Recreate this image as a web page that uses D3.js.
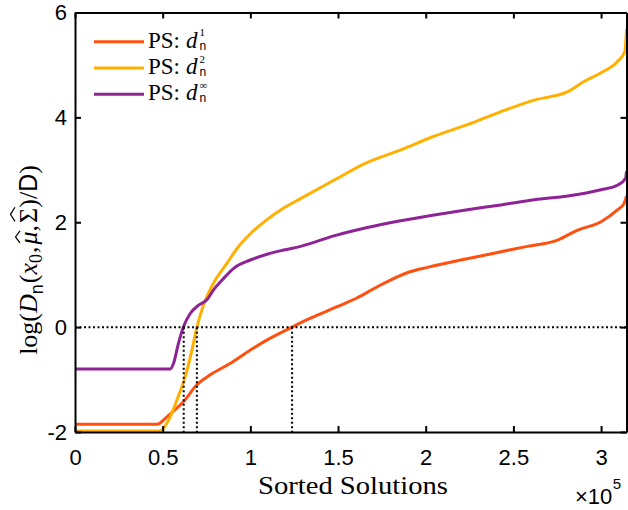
<!DOCTYPE html>
<html>
<head>
<meta charset="utf-8">
<script src="https://cdn.jsdelivr.net/npm/d3@7"></script>
<style>
  body { margin: 0; background: #fff; }
  svg { display: block; }
</style>
</head>
<body>
<svg id="chart"></svg>
<script>
// sorted solutions are in units of 1e5
const solD1 = [0, 0.47, 0.524, 0.619, 0.695, 0.771, 0.886, 1.0, 1.114, 1.238, 1.343, 1.495, 1.61, 1.724, 1.819, 1.914, 2.01, 2.2, 2.39, 2.505, 2.58, 2.752, 2.867, 3.0, 3.095, 3.13, 3.145];
const logD1 = [-1.85, -1.85, -1.71, -1.42, -1.10, -0.91, -0.69, -0.435, -0.21, 0.0, 0.17, 0.39, 0.56, 0.77, 0.93, 1.06, 1.14, 1.28, 1.41, 1.49, 1.54, 1.66, 1.85, 2.01, 2.24, 2.35, 2.5];

const solD2 = [0, 0.48, 0.543, 0.581, 0.629, 0.667, 0.695, 0.733, 0.79, 0.867, 0.924, 1.0, 1.095, 1.19, 1.286, 1.476, 1.667, 1.857, 2.048, 2.238, 2.429, 2.619, 2.81, 2.905, 3.0, 3.095, 3.135, 3.145];
const logD2 = [-1.98, -1.98, -1.71, -1.39, -0.94, -0.435, 0.0, 0.42, 0.84, 1.22, 1.5, 1.78, 2.05, 2.27, 2.45, 2.8, 3.14, 3.38, 3.64, 3.86, 4.11, 4.33, 4.49, 4.69, 4.85, 5.07, 5.25, 5.68];

const solDinf = [0, 0.543, 0.562, 0.59, 0.619, 0.657, 0.705, 0.752, 0.79, 0.848, 0.905, 1.0, 1.095, 1.19, 1.286, 1.476, 1.667, 1.857, 2.048, 2.238, 2.429, 2.619, 2.81, 3.0, 3.095, 3.14, 3.145];
const logDinf = [-0.80, -0.80, -0.69, -0.31, 0.01, 0.26, 0.42, 0.52, 0.71, 0.93, 1.12, 1.28, 1.39, 1.47, 1.54, 1.74, 1.9, 2.03, 2.14, 2.24, 2.33, 2.43, 2.5, 2.62, 2.71, 2.84, 2.97];

const seriesSup = ["1", "2", "\u221E"];
const seriesColors = ["#FF5010", "#FFB000", "#8E2396"];
const zeroCrossings = [0.62, 0.695, 1.238];
const xTicks = [0, 0.5, 1, 1.5, 2, 2.5, 3];
const yTicks = [-2, 0, 2, 4, 6];
const xMax = 3.145;

const width = 628, height = 510;
const sans = "'Liberation Sans', Arial, sans-serif";
const serif = "'Liberation Serif', 'Times New Roman', serif";

const svg = d3.select("#chart")
    .attr("width", width)
    .attr("height", height);

const x = d3.scaleLinear().domain([0, xMax]).range([75, 626.5]);
const y = d3.scaleLinear().domain([-2, 6]).range([432, 12.5]);

const series = [
    { xs: solD1, ys: logD1 },
    { xs: solD2, ys: logD2 },
    { xs: solDinf, ys: logDinf }
];

const line = d3.line()
    .x(d => x(d[0]))
    .y(d => y(d[1]))
    .curve(d3.curveMonotoneX);

series.forEach((s, i) => {
    svg.append("path")
        .datum(s.xs.map((v, j) => [v, s.ys[j]]))
        .attr("fill", "none")
        .attr("stroke", seriesColors[i])
        .attr("stroke-width", 3)
        .attr("stroke-linejoin", "round")
        .attr("d", line);
});

// dotted reference lines
svg.append("line")
    .attr("x1", x(0)).attr("x2", x(xMax))
    .attr("y1", y(0)).attr("y2", y(0))
    .attr("stroke", "#000")
    .attr("stroke-width", 2)
    .attr("stroke-dasharray", "2,2.5");

svg.selectAll("line.vdot")
    .data(zeroCrossings)
    .enter()
    .append("line")
    .attr("class", "vdot")
    .attr("x1", d => x(d)).attr("x2", d => x(d))
    .attr("y1", y(0)).attr("y2", y(-2))
    .attr("stroke", "#000")
    .attr("stroke-width", 2)
    .attr("stroke-dasharray", "2,2.5");

// axes (box with inward ticks)
const bottomAxis = d3.axisBottom(x).tickValues(xTicks).tickSizeInner(-6).tickSizeOuter(0).tickPadding(17)
    .tickFormat(d3.format("~g"));
const topAxis = d3.axisTop(x).tickValues(xTicks).tickSizeInner(-6).tickSizeOuter(0).tickFormat("");
const leftAxis = d3.axisLeft(y).tickValues(yTicks).tickSizeInner(-6).tickSizeOuter(0).tickPadding(8)
    .tickFormat(d => d < 0 ? "-" + Math.abs(d) : d);
const rightAxis = d3.axisRight(y).tickValues(yTicks).tickSizeInner(-6).tickSizeOuter(0).tickFormat("");

const gB = svg.append("g").attr("transform", `translate(0,${y(-2)})`).call(bottomAxis);
const gT = svg.append("g").attr("transform", `translate(0,${y(6)})`).call(topAxis);
const gL = svg.append("g").attr("transform", `translate(${x(0)},0)`).call(leftAxis);
const gR = svg.append("g").attr("transform", `translate(${x(xMax)},0)`).call(rightAxis);

[gB, gT, gL, gR].forEach(g => {
    g.select(".domain").attr("stroke", "#000").attr("stroke-width", 2);
    g.selectAll(".tick line").attr("stroke", "#000").attr("stroke-width", 2);
    g.selectAll("text")
        .style("font-family", sans)
        .style("font-size", "22px")
        .attr("fill", "#000");
});

// x label
svg.append("text")
    .attr("x", 353)
    .attr("y", 494)
    .attr("text-anchor", "middle")
    .style("font-family", serif)
    .style("font-size", "25px")
    .attr("textLength", 190)
    .attr("lengthAdjust", "spacingAndGlyphs")
    .text("Sorted Solutions");

// x10^5 multiplier
const mult = svg.append("text")
    .attr("x", 575)
    .attr("y", 504)
    .style("font-family", sans)
    .style("font-size", "22px")
    .text("\u00D710");
const multW = mult.node().getComputedTextLength();
svg.append("text")
    .attr("x", 575 + multW + 0.5)
    .attr("y", 489)
    .style("font-family", sans)
    .style("font-size", "15px")
    .text("5");

// helper: lay out math pieces one after another
function mathRow(g, pieces, base) {
    const fs = base || 22;
    let cx = 0;
    pieces.forEach(p => {
        const t = g.append("text")
            .attr("x", cx)
            .attr("y", p.dy || 0)
            .style("font-family", p.sans ? sans : serif)
            .style("font-style", p.italic ? "italic" : "normal")
            .style("font-size", (p.size || fs) + "px")
            .text(p.t);
        const w = t.node().getComputedTextLength();
        if (p.hat) {
            const top = p.hat;
            g.append("path")
                .attr("d", `M${cx + 1.5},${top} L${cx + w / 2 + 1},${top - 4.5} L${cx + w + 0.5},${top}`)
                .attr("fill", "none")
                .attr("stroke", "#000")
                .attr("stroke-width", 1.2);
        }
        cx += w + (p.gap || 0);
    });
    return cx;
}

// y label
const yLab = svg.append("g");
const yLabW = mathRow(yLab, [
    { t: "log(" },
    { t: "D", italic: true },
    { t: "n", sans: true, size: 18, dy: 6, gap: 1 },
    { t: "(" },
    { t: "x", italic: true },
    { t: "0", size: 18, dy: 5, gap: 1 },
    { t: ", ", gap: 2 },
    { t: "\u03BC", italic: true, hat: -17 },
    { t: ", ", gap: 2 },
    { t: "\u03A3", hat: -22 },
    { t: ")/" },
    { t: "D", sans: true, size: 25 },
    { t: ")" }
], 26);
yLab.attr("transform", `translate(37,${260 + yLabW / 2}) rotate(-90)`);

// legend
const legend = svg.append("g");
seriesSup.forEach((sup, i) => {
    const ly = 41.7 + i * 26.3;
    legend.append("line")
        .attr("x1", 94).attr("x2", 144)
        .attr("y1", ly).attr("y2", ly)
        .attr("stroke", seriesColors[i])
        .attr("stroke-width", 3);
    const row = legend.append("g").attr("transform", `translate(148,${ly + 6})`);
    const w = mathRow(row, [
        { t: "PS:", gap: 6 },
        { t: "d", italic: true, gap: 2 }
    ], 23);
    row.append("text")
        .attr("x", w).attr("y", -11.5)
        .style("font-family", serif)
        .style("font-size", "11px")
        .text(sup);
    row.append("text")
        .attr("x", w).attr("y", 2)
        .style("font-family", sans)
        .style("font-size", "12px")
        .text("n");
});
</script>
</body>
</html>
